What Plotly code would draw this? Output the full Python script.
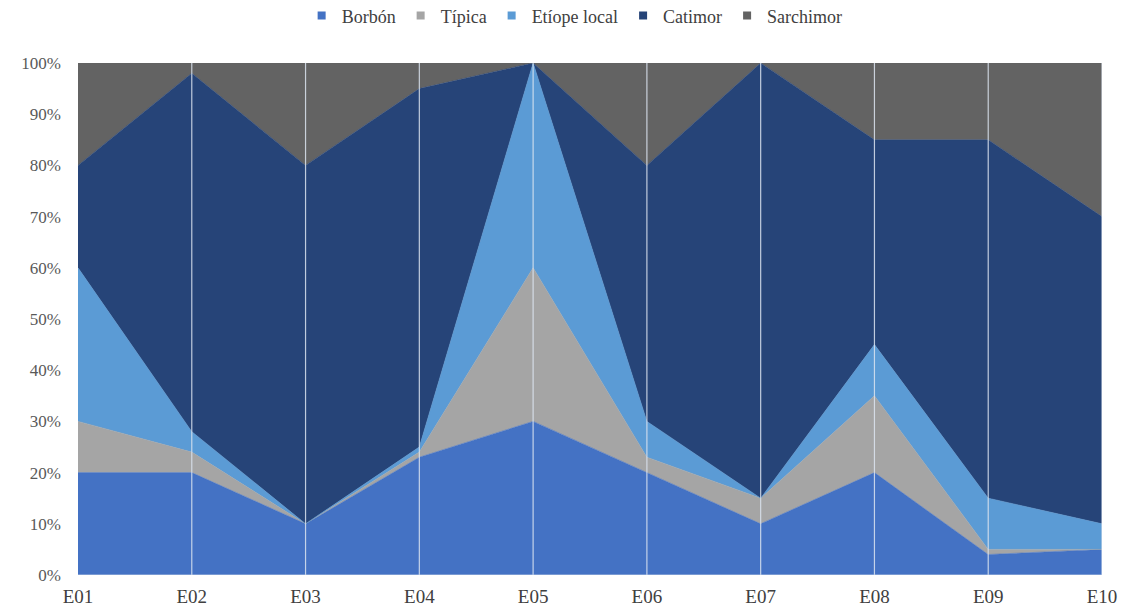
import plotly.graph_objects as go

categories = ["E01", "E02", "E03", "E04", "E05", "E06", "E07", "E08", "E09", "E10"]
borbon    = [20, 20, 10, 23, 30, 20, 10, 20, 4, 5]
tipica    = [10, 4, 0, 1, 30, 3, 5, 15, 1, 0]
etiope    = [30, 4, 0, 1, 40, 7, 0, 10, 10, 5]
catimor   = [20, 70, 70, 70, 0, 50, 85, 40, 70, 60]
sarchimor = [20, 2, 20, 5, 0, 20, 0, 15, 15, 30]
y_ticks = [0, 10, 20, 30, 40, 50, 60, 70, 80, 90, 100]

series = [
    ("Borbón", borbon, "#4472C4"),
    ("Típica", tipica, "#A5A5A5"),
    ("Etíope local", etiope, "#5B9BD5"),
    ("Catimor", catimor, "#264478"),
    ("Sarchimor", sarchimor, "#636363"),
]

x = list(range(len(categories)))
fig = go.Figure()
for name, vals, col in series:
    fig.add_trace(go.Scatter(
        x=x, y=vals, name=name, stackgroup="one", mode="lines",
        line=dict(width=0.6, color=col), fillcolor=col, showlegend=False,
        legendgroup=name,
    ))
# square legend markers
for name, vals, col in series:
    fig.add_trace(go.Scatter(
        x=[None], y=[None], name=name, mode="markers", legendgroup=name,
        marker=dict(symbol="square", size=8, color=col), showlegend=True,
    ))

shapes = []
for i in range(1, len(categories)):
    shapes.append(dict(type="line", xref="x", yref="paper", x0=i, x1=i, y0=0, y1=1,
                       line=dict(color="rgba(220,228,240,0.85)", width=1.2), layer="above"))
shapes.append(dict(type="line", xref="paper", yref="y", x0=0, x1=1, y0=0, y1=0,
                   line=dict(color="rgba(190,205,230,0.9)", width=1), layer="above"))

fig.update_layout(
    width=1123, height=609,
    margin=dict(l=78, r=21, t=63, b=34, autoexpand=False),
    paper_bgcolor="white", plot_bgcolor="white",
    font=dict(family="Liberation Serif, Times New Roman, serif", color="#595959", size=17),
    legend=dict(orientation="h", x=0.485, xanchor="center", y=1.092, yanchor="middle",
                font=dict(size=18, color="#404040"), traceorder="normal",
                itemwidth=30, tracegroupgap=0, itemclick=False),
    showlegend=True,
    shapes=shapes,
    xaxis=dict(range=[0, len(categories) - 1], tickvals=x, ticktext=categories,
               showgrid=False, zeroline=False, showline=False, ticks="",
               tickfont=dict(size=19, color="#404040"), ticklabelstandoff=8,
               fixedrange=True),
    yaxis=dict(range=[0, 100], tickvals=y_ticks, ticktext=[f"{v}%" for v in y_ticks],
               showgrid=False, zeroline=False, showline=False, ticks="",
               tickfont=dict(size=17, color="#595959"), ticklabelstandoff=16,
               fixedrange=True),
)
fig.write_html("out.html")
